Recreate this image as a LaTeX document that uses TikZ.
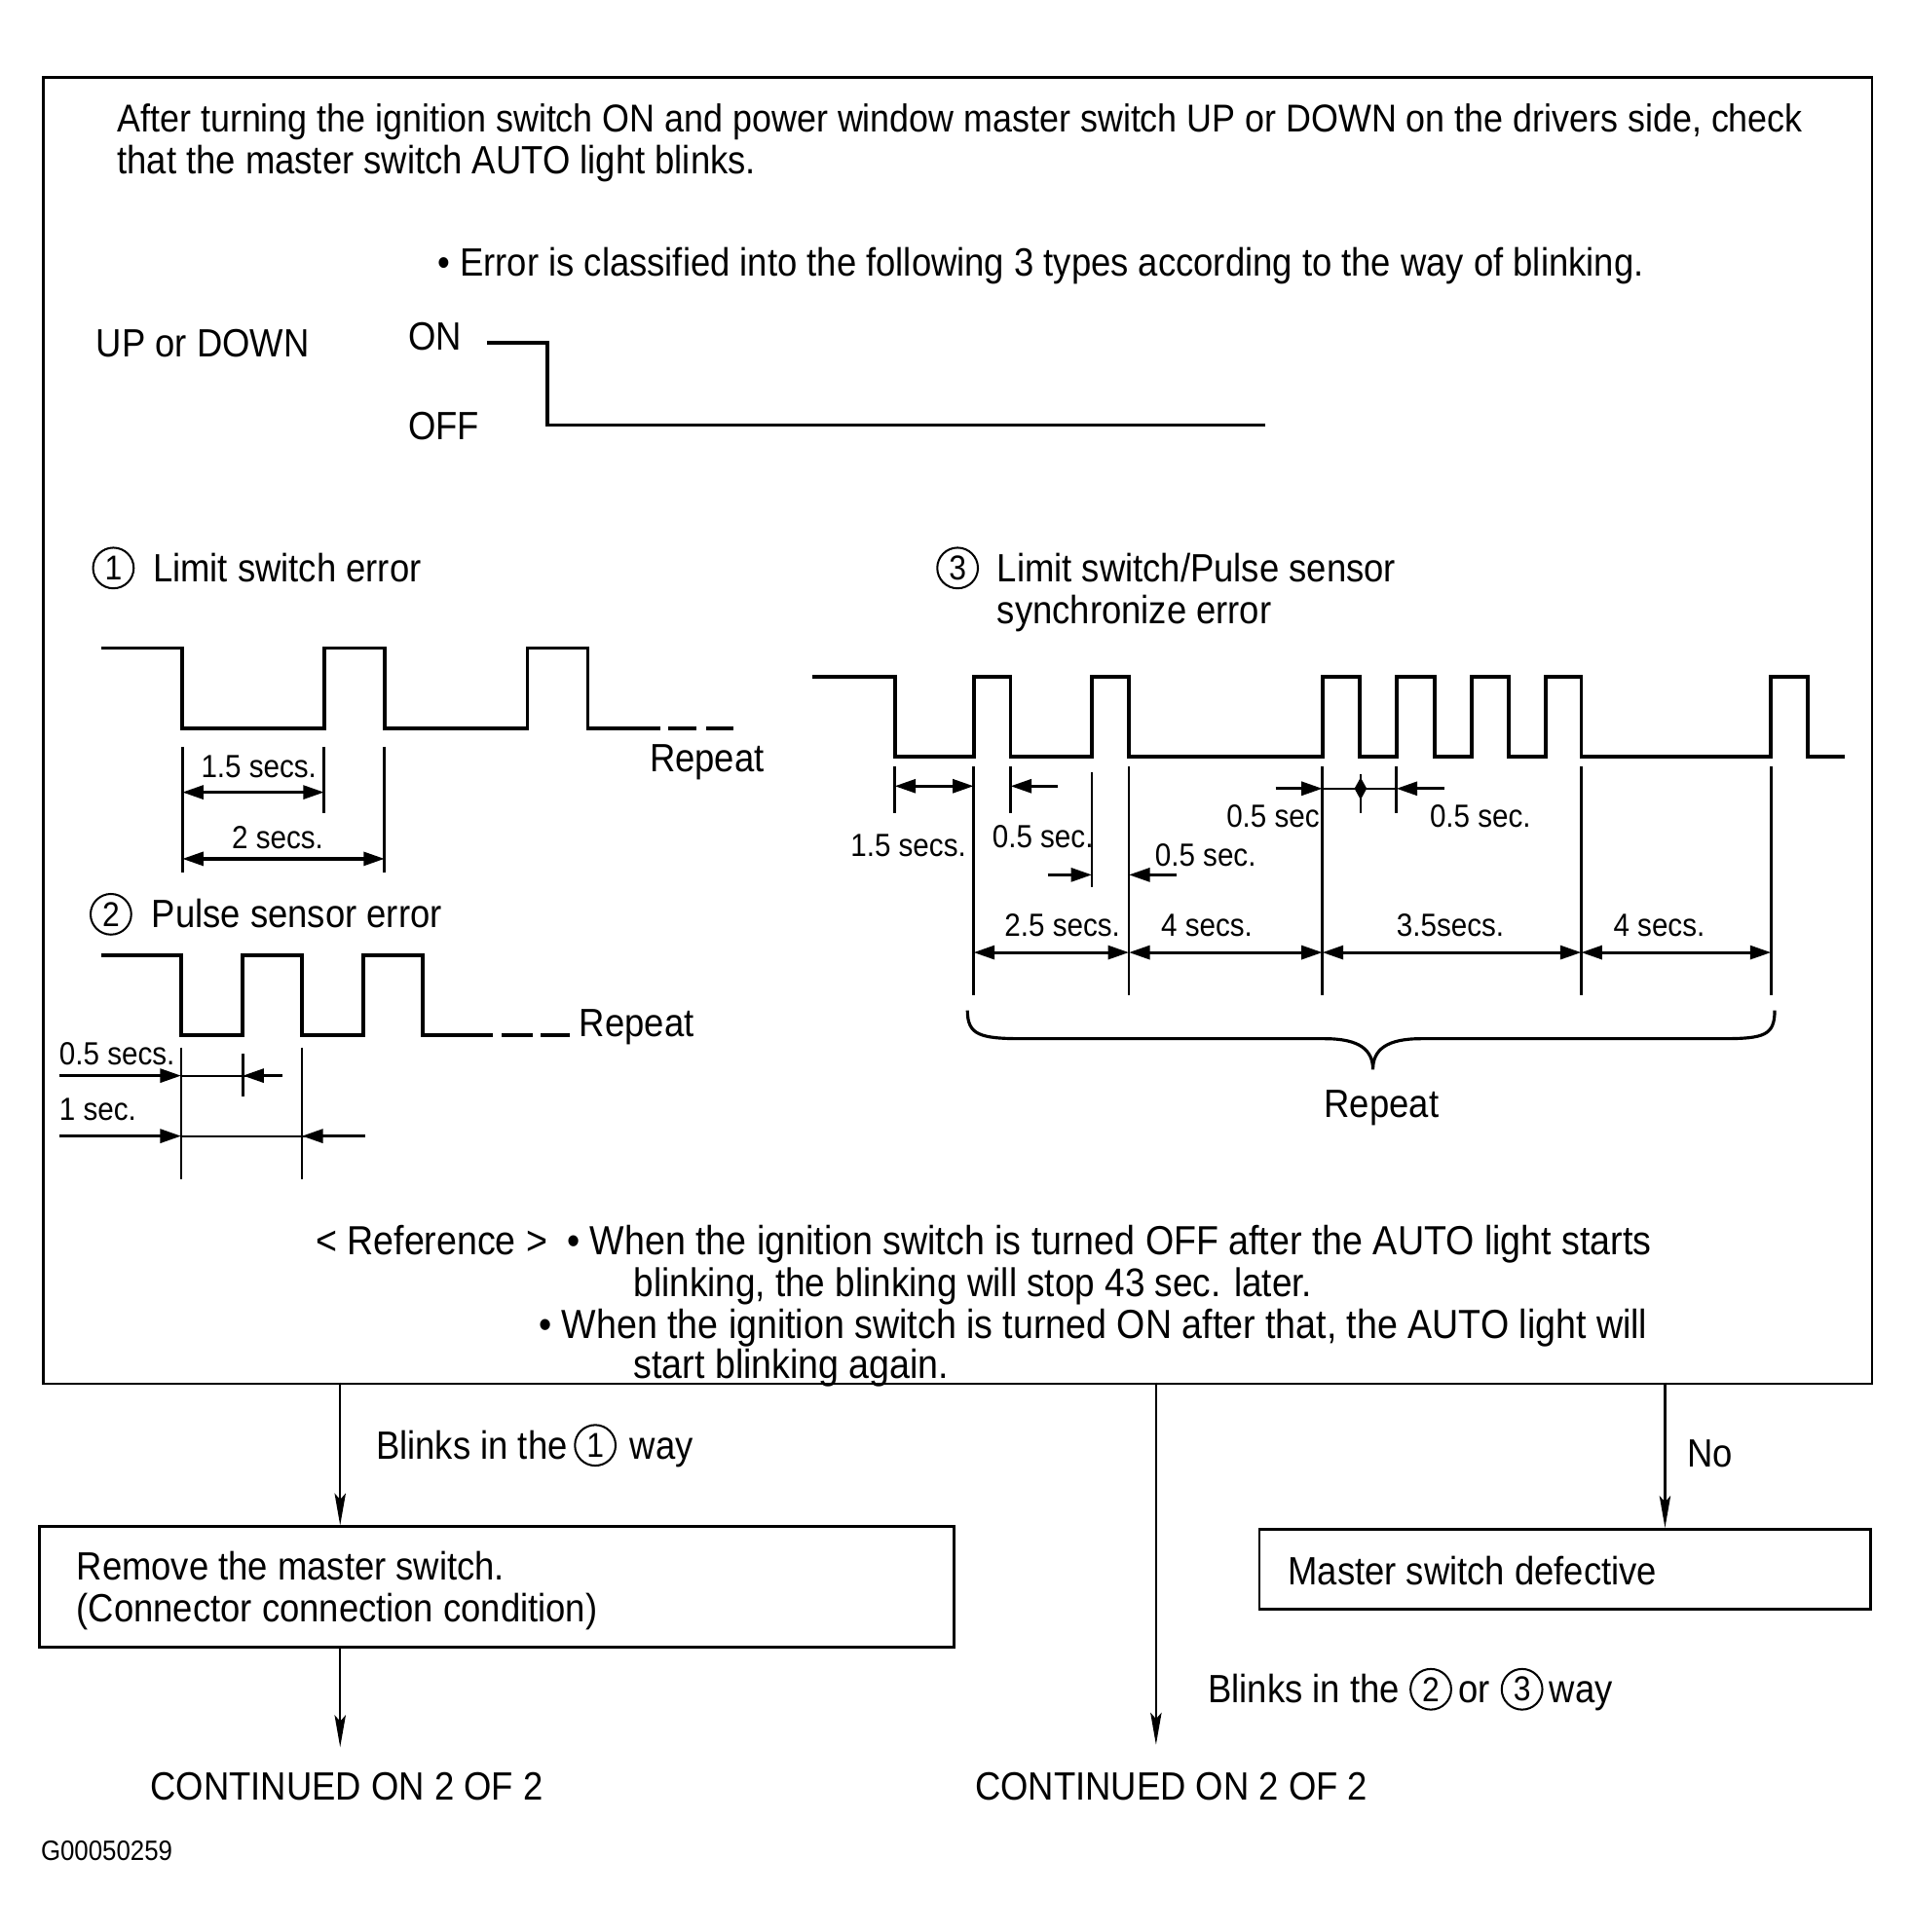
\documentclass[tikz,border=0pt]{standalone}
\usepackage{fontspec}
\setmainfont{Liberation Sans}[FakeStretch=0.90]
\usetikzlibrary{arrows.meta,positioning}
\begin{document}
\begin{tikzpicture}[x=1pt,y=-1pt,
  txt/.style={font=\fontsize{32}{34}\selectfont, inner sep=0pt, anchor=base west},
  reftxt/.style={font=\fontsize{33}{34}\selectfont, inner sep=0pt, anchor=base west},
  dimtxt/.style={font=\fontsize{26}{28}\selectfont, inner sep=0pt, anchor=base west},
  circ/.style={circle, draw, line width=1.6pt, minimum size=33pt, inner sep=0pt, font=\fontsize{28}{28}\selectfont},
  sig/.style={line width=3pt, line join=miter},
  ext/.style={line width=2.2pt},
  dimarr/.style={line width=2.5pt, -{Triangle[length=17pt,width=11pt]}},
  dimboth/.style={line width=2.5pt, {Triangle[length=17pt,width=11pt]}-{Triangle[length=17pt,width=11pt]}},
  thinline/.style={line width=1.5pt},
  flow/.style={line width=2pt, -{Stealth[length=26pt,width=9pt,inset=5pt]}},
  box/.style={draw, line width=2pt, inner sep=0pt}
]
\useasboundingbox (0,0) rectangle (1550,1568);

% main box
\node[box, anchor=north west, minimum width=1484pt, minimum height=1060pt] (main) at (34,62) {};

\node[txt, font=\fontsize{31.5}{34}\selectfont] (intro1) at (95,107) {After turning the ignition switch ON and power window master switch UP or DOWN on the drivers side, check};
\node[txt] (intro2) at (95,141) {that the master switch AUTO light blinks.};
\node[txt] (err) at (355,224) {• Error is classified into the following 3 types according to the way of blinking.};

% UP or DOWN
\node[txt] (ud) at (78,290) {UP or DOWN};
\node[txt] (on) at (331,284) {ON};
\node[txt] (off) at (331,357) {OFF};
\draw[sig] (395,278) -- (444,278) -- (444,345) -- (1027,345);

% (1) Limit switch error
\node[circ] (c1) at (92,461) {1};
\node[txt] (t1) at (124,472) {Limit switch error};
\draw[sig] (82,526) -- (148,526) -- (148,591) -- (263,591) -- (263,526) -- (312,526) -- (312,591) -- (428,591) -- (428,526) -- (477,526) -- (477,591) -- (536,591);
\draw[sig] (542,591) -- (565,591);
\draw[sig] (573,591) -- (595,591);
\node[txt] (rep1) at (527,626) {Repeat};
\draw[ext] (148,606) -- (148,708);
\draw[ext] (263,606) -- (263,660);
\draw[ext] (312,606) -- (312,708);
\draw[dimboth] (148,643) -- (263,643);
\draw[dimboth] (148,697) -- (312,697);
\node[dimtxt] (d11) at (163,631) {1.5 secs.};
\node[dimtxt] (d12) at (188,689) {2 secs.};

% (2) Pulse sensor error
\node[circ] (c2) at (90,742) {2};
\node[txt] (t2) at (123,753) {Pulse sensor error};
\draw[sig] (82,775) -- (147,775) -- (147,840) -- (197,840) -- (197,775) -- (245,775) -- (245,840) -- (295,840) -- (295,775) -- (343,775) -- (343,840) -- (400,840);
\draw[sig] (407,840) -- (432,840);
\draw[sig] (439,840) -- (462,840);
\node[txt] (rep2) at (470,841) {Repeat};
\draw[ext] (147,850) -- (147,957);
\draw[ext] (245,850) -- (245,957);
\draw[ext] (197,855) -- (197,890);
\draw[thinline] (147,873) -- (229,873);
\draw[thinline] (147,922) -- (296,922);
\draw[dimarr] (48,873) -- (147,873);
\draw[dimarr] (229,873) -- (197,873);
\draw[dimarr] (48,922) -- (147,922);
\draw[dimarr] (296,922) -- (245,922);
\node[dimtxt] (d21) at (48,864) {0.5 secs.};
\node[dimtxt] (d22) at (48,909) {1 sec.};

% (3) Limit switch / pulse sensor synchronize error
\node[circ] (c3) at (777,461) {3};
\node[txt] (t3a) at (809,472) {Limit switch/Pulse sensor};
\node[txt] (t3b) at (809,506) {synchronize error};
\draw[sig] (659,549) -- (726,549) -- (726,614) -- (790,614) -- (790,549) -- (820,549) -- (820,614) -- (886,614) -- (886,549) -- (916,549) -- (916,614) -- (1073,614) -- (1073,549) -- (1103,549) -- (1103,614) -- (1133,614) -- (1133,549) -- (1164,549) -- (1164,614) -- (1194,614) -- (1194,549) -- (1224,549) -- (1224,614) -- (1254,614) -- (1254,549) -- (1283,549) -- (1283,614) -- (1437,614) -- (1437,549) -- (1467,549) -- (1467,614) -- (1497,614);
\draw[ext] (726,622) -- (726,660);
\draw[ext] (790,622) -- (790,808);
\draw[ext] (820,622) -- (820,660);
\draw[ext] (886,627) -- (886,720);
\draw[ext] (916,622) -- (916,808);
\draw[ext] (1073,622) -- (1073,808);
\draw[ext] (1104,628) -- (1104,660);
\draw[ext] (1133,622) -- (1133,660);
\draw[ext] (1283,622) -- (1283,808);
\draw[ext] (1437,622) -- (1437,808);
\draw[dimboth] (726,638) -- (790,638);
\draw[dimarr] (858,638) -- (820,638);
\draw[dimarr] (850,710) -- (886,710);
\draw[dimarr] (955,710) -- (916,710);
\draw[thinline] (1073,640) -- (1133,640);
\draw[dimarr] (1035,640) -- (1073,640);
\draw[dimarr] (1172,640) -- (1133,640);
\fill (1104,631) -- (1109,640) -- (1104,649) -- (1099,640) -- cycle;
\draw[dimboth] (790,773) -- (916,773);
\draw[dimboth] (916,773) -- (1073,773);
\draw[dimboth] (1073,773) -- (1283,773);
\draw[dimboth] (1283,773) -- (1437,773);
\node[dimtxt] (d31) at (690,695) {1.5 secs.};
\node[dimtxt] (d32) at (805,688) {0.5 sec.};
\node[dimtxt] (d33) at (937,703) {0.5 sec.};
\node[dimtxt] (d34) at (995,671) {0.5 sec};
\node[dimtxt] (d35) at (1160,671) {0.5 sec.};
\node[dimtxt] (d36) at (815,760) {2.5 secs.};
\node[dimtxt] (d37) at (942,760) {4 secs.};
\node[dimtxt] (d38) at (1133,760) {3.5secs.};
\node[dimtxt] (d39) at (1309,760) {4 secs.};
\draw[line width=2.5pt] (785,820) .. controls (785,840) and (795,843) .. (830,843) -- (1075,843) .. controls (1103,843) and (1114,852) .. (1114,868) .. controls (1114,852) and (1125,843) .. (1153,843) -- (1398,843) .. controls (1432,843) and (1440,840) .. (1440,820);
\node[txt, anchor=base] (rep3) at (1121,907) {Repeat};

% reference
\node[reftxt] (ref0) at (256,1018) {< Reference >};
\node[reftxt] (ref1) at (460,1018) {• When the ignition switch is turned OFF after the AUTO light starts};
\node[reftxt, font=\fontsize{32.4}{34}\selectfont] (ref2) at (514,1052) {blinking, the blinking will stop 43 sec. later.};
\node[reftxt] (ref3) at (437,1086) {• When the ignition switch is turned ON after that, the AUTO light will};
\node[reftxt] (ref4) at (514,1119) {start blinking again.};

% flow boxes
\node[box, anchor=north west, minimum width=742pt, minimum height=98pt] (rm) at (31,1238) {};
\node[txt] (rmt1) at (62,1282) {Remove the master switch.};
\node[txt] (rmt2) at (62,1316) {(Connector connection condition)};
\node[box, anchor=north west, minimum width=496pt, minimum height=65pt] (ms) at (1021,1240) {};
\node[txt] (mst) at (1045,1286) {Master switch defective};

\coordinate (o1) at (276,1122);
\coordinate (o2) at (938,1122);
\coordinate (o3) at (1351,1122);
\coordinate (e1) at (276,1418);
\coordinate (e2) at (938,1416);
\draw[flow] (o1) -- (o1 |- rm.north);
\draw[flow] (rm.south -| o1) -- (e1);
\draw[flow] (o2) -- (e2);
\draw[flow] (o3) -- (o3 |- ms.north);

\node[txt] (l1a) at (305,1184) {Blinks in the};
\node[circ] (l1c) at (483,1173) {1};
\node[txt] (l1b) at (511,1184) {way};
\node[txt] (l3) at (1369,1191) {No};
\node[txt] (l2a) at (980,1382) {Blinks in the};
\node[circ] (l2c) at (1161,1371) {2};
\node[txt] (l2b) at (1183,1382) {or};
\node[circ] (l2d) at (1235,1371) {3};
\node[txt] (l2e) at (1257,1382) {way};

\node[txt] (cont1) at (122,1461) {CONTINUED ON 2 OF 2};
\node[txt] (cont2) at (791,1461) {CONTINUED ON 2 OF 2};
\node[txt, font=\fontsize{22.7}{24}\selectfont] (code) at (33,1510) {G00050259};
\end{tikzpicture}
\end{document}
